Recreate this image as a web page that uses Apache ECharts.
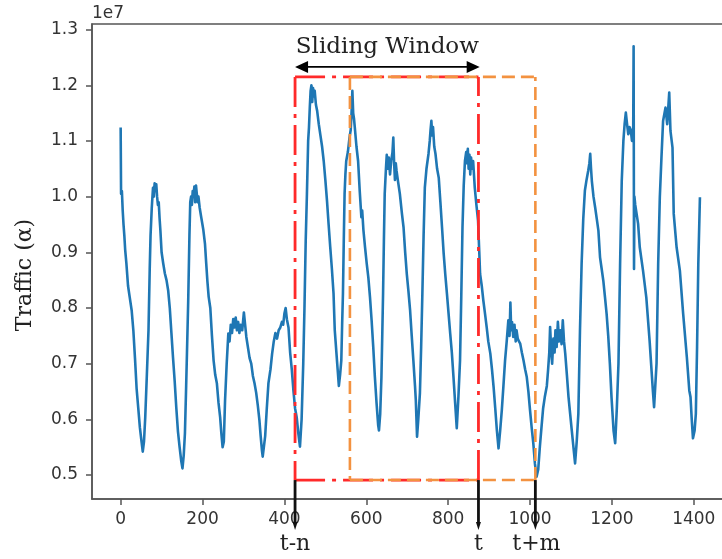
<!DOCTYPE html>
<html>
<head>
<meta charset="utf-8">
<script src="https://cdn.jsdelivr.net/npm/echarts@6/dist/echarts.min.js"></script>
<style>
  html, body { margin: 0; padding: 0; background: #fff; }
  #chart { width: 722px; height: 559px; }
</style>
</head>
<body>
<div id="chart"></div>
<script>
// Traffic samples: [time index, traffic in units of 1e7]
const trafficPoints = [
  [0,1.124],[1,1.005],[3,1.01],[5,0.975],[7,0.95],[9,0.93],[11,0.905],[14,0.88],[18,0.84],[22,0.82],
  [27,0.795],[31,0.76],[35,0.71],[39,0.655],[43,0.62],[47,0.585],[51,0.56],[54,0.542],[57,0.56],[60,0.603],
  [64,0.68],[68,0.76],[71,0.87],[73,0.93],[76,0.98],[79,1.016],[81,1.0],[83,1.024],[85,1.01],[87,1.022],
  [89,1.0],[91,0.985],[93,0.99],[95,0.962],[97,0.94],[100,0.9],[104,0.88],[108,0.862],[112,0.85],[116,0.832],
  [120,0.80],[124,0.755],[128,0.71],[132,0.668],[136,0.62],[140,0.578],[144,0.55],[148,0.525],
  [151,0.512],[154,0.535],[157,0.575],[160,0.66],[162,0.72],[165,0.812],[168,0.93],[170,0.99],[172,1.0],[174,0.985],
  [176,1.01],[178,1.0],[180,1.018],[182,0.99],[184,1.02],[186,1.005],[188,0.99],[190,1.0],[193,0.98],[197,0.962],
  [202,0.94],[206,0.915],[209,0.88],[212,0.847],[215,0.82],[219,0.80],[223,0.75],[227,0.706],[231,0.68],[235,0.665],
  [239,0.63],[243,0.604],[246,0.575],[249,0.55],[252,0.56],[255,0.634],[259,0.70],[263,0.754],[266,0.74],[269,0.77],
  [272,0.755],[275,0.78],[278,0.765],[281,0.783],[284,0.76],[287,0.775],[290,0.755],[293,0.77],[297,0.76],
  [301,0.792],[304,0.77],[307,0.748],[311,0.745],[315,0.71],[319,0.70],[323,0.678],[327,0.665],[331,0.648],[335,0.625],
  [339,0.598],[342,0.57],[345,0.545],[347,0.533],[350,0.535],[353,0.57],[357,0.62],[361,0.665],[366,0.69],[370,0.718],
  [374,0.74],[378,0.755],[382,0.745],[386,0.76],[390,0.765],[394,0.775],[397,0.77],[400,0.79],[403,0.80],[406,0.78],
  [410,0.765],[414,0.72],[418,0.69],[422,0.652],[426,0.62],[430,0.604],[434,0.575],[438,0.551],[442,0.60],[446,0.70],
  [449,0.80],[452,0.92],
  [455,1.005],[458,1.10],[460,1.124],[462,1.16],[464,1.19],[466,1.20],[468,1.17],[470,1.195],[472,1.18],[474,1.19],
  [477,1.165],[480,1.154],[484,1.13],[488,1.11],[492,1.09],[496,1.064],[500,1.03],[504,0.993],[508,0.95],[512,0.909],
  [516,0.87],[520,0.826],[523,0.76],[525,0.74],[527,0.72],[530,0.69],[533,0.66],[536,0.68],[539,0.706],[541,0.77],
  [543,0.826],[545,0.92],[547,1.005],[549,1.04],[551,1.064],[555,1.08],[559,1.106],[562,1.12],[564,1.15],[566,1.19],
  [568,1.15],[570,1.14],[572,1.124],[576,1.09],[580,1.064],[584,1.01],[588,0.963],[590,0.975],[593,0.94],[597,0.909],
  [601,0.88],[605,0.855],[609,0.82],[613,0.778],[617,0.73],[621,0.676],[625,0.63],[629,0.59],[631,0.58],[634,0.61],
  [637,0.676],[639,0.75],[641,0.826],[643,0.92],[645,1.005],[648,1.05],[650,1.075],[653,1.05],[655,1.07],[658,1.04],
  [661,1.065],[664,1.08],[666,1.106],[668,1.06],[670,1.03],[672,1.06],[674,1.046],[677,1.03],[682,1.005],[687,0.97],
  [691,0.945],[695,0.9],[699,0.861],[703,0.83],[707,0.796],[711,0.75],[715,0.706],[719,0.66],[721,0.634],[724,0.569],
  [727,0.60],[731,0.647],[734,0.73],[737,0.826],[740,0.93],[743,1.016],[747,1.05],
  [752,1.077],[755,1.10],[757,1.12],[759,1.136],[761,1.11],[763,1.125],[766,1.09],[769,1.077],[773,1.05],[777,1.034],
  [781,0.99],[785,0.945],[789,0.898],[793,0.86],[797,0.826],[801,0.79],[805,0.754],[809,0.72],[813,0.676],[817,0.63],
  [821,0.584],[825,0.64],[829,0.706],[832,0.82],[835,0.945],[838,1.02],[841,1.064],[844,1.08],[846,1.06],[848,1.086],
  [850,1.05],[852,1.075],[854,1.04],[856,1.07],[858,1.05],[861,1.064],[865,1.016],[869,0.985],[873,0.957],[876,0.90],
  [878,0.861],[882,0.84],[886,0.813],[890,0.79],[894,0.766],[898,0.74],
  [903,0.718],[907,0.69],[911,0.658],[915,0.62],[919,0.58],[923,0.548],[927,0.58],[931,0.616],[935,0.66],[939,0.706],
  [943,0.74],[947,0.778],[950,0.75],[952,0.81],[954,0.76],[956,0.775],[959,0.748],[962,0.77],[965,0.74],[967,0.76],
  [970,0.745],[973,0.74],[976,0.736],[980,0.72],[984,0.706],[988,0.69],[992,0.676],[996,0.65],[1000,0.616],[1004,0.585],
  [1008,0.557],[1012,0.52],[1016,0.497],[1020,0.51],[1024,0.551],[1028,0.586],[1032,0.62],[1036,0.64],[1041,0.66],[1044,0.688],
  [1047,0.72],[1049,0.766],
  [1052,0.72],[1054,0.70],[1057,0.745],[1060,0.72],[1062,0.76],[1065,0.73],[1068,0.775],[1071,0.74],[1074,0.76],[1077,0.735],
  [1080,0.778],[1083,0.74],[1086,0.718],[1090,0.68],[1094,0.64],[1098,0.61],[1102,0.58],[1106,0.55],[1110,0.521],[1114,0.56],
  [1118,0.61],[1122,0.76],[1126,0.88],[1130,0.96],[1134,1.011],[1138,1.03],[1142,1.046],[1145,1.06],[1147,1.077],[1149,1.05],
  [1151,1.028],[1155,1.0],[1159,0.981],[1163,0.96],[1167,0.939],[1171,0.891],[1175,0.87],[1179,0.849],[1183,0.82],[1187,0.79],
  [1191,0.75],[1195,0.70],[1199,0.64],
  [1204,0.58],[1208,0.557],[1212,0.62],[1216,0.70],[1220,0.88],[1224,1.028],[1228,1.10],[1231,1.13],[1234,1.151],[1237,1.13],
  [1240,1.112],[1243,1.125],[1246,1.12],[1249,1.10],[1252,1.115],[1253,1.27],[1254,0.87],[1255,1.0],[1257,0.985],[1264,0.951],
  [1268,0.909],[1276,0.867],[1284,0.819],[1292,0.742],[1300,0.652],[1303,0.622],[1309,0.70],[1313,0.879],[1317,0.999],[1321,1.07],
  [1325,1.136],[1331,1.16],[1335,1.13],[1340,1.187],[1343,1.118],[1348,1.088],[1351,0.969],[1358,0.909],[1366,0.867],[1374,0.79],
  [1383,0.712],[1389,0.652],[1392,0.64],[1395,0.6],[1398,0.566],[1402,0.58],[1405,0.61],[1408,0.73],[1411,0.879],[1415,0.999]
];

const xTicks = [0, 200, 400, 600, 800, 1000, 1200, 1400];
const yTicks = [0.5, 0.6, 0.7, 0.8, 0.9, 1.0, 1.1, 1.2, 1.3];

// Window annotation (time index, traffic e7)
const slidingWindow = [426, 874];     // t-n .. t
const shiftedWindow = [560, 1013];    // .. t+m
const windowBand = [0.491, 1.215];    // bottom / top of both boxes
const arrowLevel = 1.233;
const markers = [['t-n', 426], ['t', 874], ['t+m', 1013]];

const chart = echarts.init(document.getElementById('chart'), null, { renderer: 'canvas' });

const tickFont = { fontFamily: 'DejaVu Sans', fontSize: 17, color: '#333' };

chart.setOption({
  animation: false,
  backgroundColor: '#fff',
  grid: {
    left: 92, top: 24, width: 637, height: 475,
    outerBoundsMode: 'none', containLabel: false,
    show: true, borderColor: '#555', borderWidth: 1.5, backgroundColor: 'transparent'
  },
  xAxis: {
    type: 'value', min: -70, max: 1486,
    splitLine: { show: false },
    axisLine: { show: true, onZero: false, lineStyle: { color: '#555', width: 1.5 } },
    axisTick: { show: true, length: 6, customValues: xTicks, lineStyle: { color: '#555', width: 1.5 } },
    axisLabel: { customValues: xTicks, margin: 12, ...tickFont, formatter: v => String(v) }
  },
  yAxis: {
    type: 'value', min: 0.457, max: 1.31,
    splitLine: { show: false },
    axisLine: { show: true, onZero: false, lineStyle: { color: '#555', width: 1.5 } },
    axisTick: { show: true, length: 6, customValues: yTicks, lineStyle: { color: '#555', width: 1.5 } },
    axisLabel: { customValues: yTicks, margin: 14, ...tickFont, formatter: v => v.toFixed(1) }
  },
  series: [{
    type: 'line',
    data: trafficPoints,
    showSymbol: false,
    symbol: 'none',
    lineStyle: { color: '#1f77b4', width: 2.6, join: 'round' },
    z: 2
  }]
});

const px = (x, y) => chart.convertToPixel({ gridIndex: 0 }, [x, y]);

function boxSides(range, style) {
  const [l, t] = px(range[0], windowBand[1]);
  const [r, b] = px(range[1], windowBand[0]);
  return [
    [l, t, r, t], [l, t, l, b], [r, b, r, t], [l, b, r, b]
  ].map(s => ({
    type: 'line', silent: true, z: 10,
    shape: { x1: s[0], y1: s[1], x2: s[2], y2: s[3] },
    style
  }));
}

const graphics = [];

// dash-dot window t-n .. t
graphics.push(...boxSides(slidingWindow, {
  stroke: '#ff2a2a', lineWidth: 2.8, lineDash: [30, 7, 4, 7], lineCap: 'butt'
}));
// dashed window shifted to t+m
graphics.push(...boxSides(shiftedWindow, {
  stroke: '#f39240', lineWidth: 2.6, lineDash: [13, 6], lineCap: 'butt'
}));

// double-headed arrow spanning the window
const [ax1, ay] = px(slidingWindow[0], arrowLevel);
const [ax2] = px(slidingWindow[1] + 3, arrowLevel);
const headL = 13, headW = 6;
graphics.push({
  type: 'line', z: 11, shape: { x1: ax1 + headL - 2, y1: ay, x2: ax2 - headL + 2, y2: ay },
  style: { stroke: '#000', lineWidth: 1.6 }
});
graphics.push({
  type: 'polygon', z: 11,
  shape: { points: [[ax1, ay], [ax1 + headL, ay - headW], [ax1 + headL, ay + headW]] },
  style: { fill: '#000' }
});
graphics.push({
  type: 'polygon', z: 11,
  shape: { points: [[ax2, ay], [ax2 - headL, ay - headW], [ax2 - headL, ay + headW]] },
  style: { fill: '#000' }
});
graphics.push({
  type: 'text', z: 11, x: (ax1 + ax2) / 2, y: ay - 20,
  style: { text: 'Sliding Window', font: '23px "DejaVu Serif"', fill: '#222', align: 'center', verticalAlign: 'middle' }
});

// time markers below the axis
const bandBottom = px(0, windowBand[0])[1];
markers.forEach(([label, t]) => {
  const [mx] = px(t, windowBand[0]);
  graphics.push({
    type: 'line', z: 12, shape: { x1: mx, y1: bandBottom, x2: mx, y2: 524 },
    style: { stroke: '#111', lineWidth: 2.8 }
  });
  graphics.push({
    type: 'polygon', z: 12,
    shape: { points: [[mx - 2.5, 522], [mx + 2.5, 522], [mx, 530]] },
    style: { fill: '#111' }
  });
  graphics.push({
    type: 'text', z: 12, x: mx + (label === 't+m' ? 1 : 0), y: 544,
    style: { text: label, font: '22px "DejaVu Serif"', fill: '#222', align: 'center', verticalAlign: 'middle' }
  });
});

// exponent of the value axis and axis title
graphics.push({
  type: 'text', z: 12, x: 92, y: 14,
  style: { text: '1e7', font: '17px "DejaVu Sans"', fill: '#333', align: 'left', verticalAlign: 'middle' }
});
graphics.push({
  type: 'text', z: 12, x: 25, y: 275, rotation: Math.PI / 2,
  style: { text: 'Traffic (α)', font: '22px "DejaVu Serif"', fill: '#222', align: 'center', verticalAlign: 'middle' }
});

chart.setOption({ graphic: { elements: graphics } });
</script>
</body>
</html>
